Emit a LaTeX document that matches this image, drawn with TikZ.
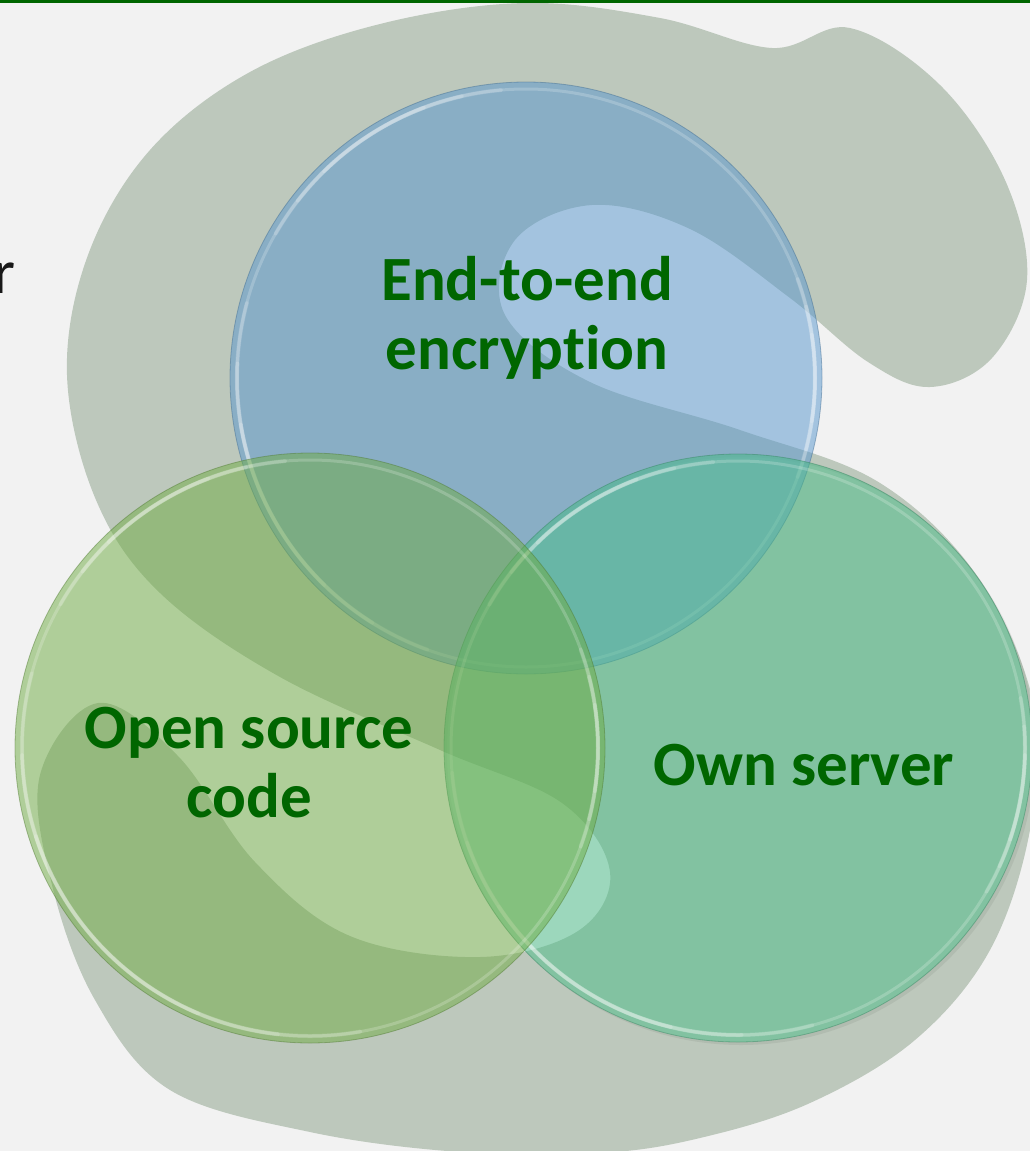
\documentclass[tikz,border=0pt]{standalone}
\usepackage{fontspec}
\setmainfont{Carlito}[Ligatures=NoCommon]
\definecolor{bgc}{RGB}{242,242,242}
\definecolor{blobc}{RGB}{189,200,188}
\definecolor{bluec}{RGB}{86,150,206}
\definecolor{leftc}{RGB}{110,172,66}
\definecolor{rightc}{RGB}{72,190,136}
\definecolor{txtgreen}{RGB}{0,102,0}
\definecolor{cuttext}{RGB}{25,25,25}
% tapered glossy arc: #1 centre node, #2 radius, #3 start angle, #4 end angle
\newcommand{\myglossarc}[4]{%
  \foreach \k in {0,1,2}{%
    \pgfmathsetmacro{\sa}{#3+\k*(#4-#3)/7}%
    \pgfmathsetmacro{\ea}{#4-\k*(#4-#3)/7}%
    \draw[white, opacity=0.17, line width=4pt, line cap=round]
      ([shift={(\sa:#2)}]#1.center) arc[start angle=\sa, end angle=\ea, radius=#2];
  }}
\begin{document}
\begin{tikzpicture}[x=1pt,y=-1pt,
  lbl/.style={text=txtgreen, font=\bfseries\fontsize{63}{69}\selectfont, align=center, inner sep=0pt},
  disc/.style={circle, inner sep=0pt, minimum size=592pt, fill=#1, fill opacity=0.5, draw=#1!70!black, draw opacity=0.45, line width=0.8pt},
  rim/.style={white, opacity=0.2, line width=3pt}]
\useasboundingbox (0,0) rectangle (1030,1151);
\fill[bgc] (0,0) rectangle (1030,1151);
\begin{scope}
\clip (0,0) rectangle (1030,1151);
% background blob
\fill[blobc] plot[smooth cycle, tension=0.6] coordinates {
 (67,375) (88,255) (150,150) (250,72) (380,24) (525,3) (660,18) (772,48)
 (850,28) (940,85) (1005,180) (1027,280) (992,358) (930,387) (868,362)
 (790,298) (690,229) (592,205) (515,240) (505,315) (590,382) (740,430)
 (880,483) (980,580) (1035,710) (1030,830) (990,950) (915,1040) (810,1103)
 (700,1138) (600,1153) (460,1152) (310,1132) (170,1090) (95,1000) (52,885)
 (40,775) (98,703) (178,756) (255,862) (350,936) (480,957) (578,931)
 (610,872) (562,803) (440,750) (280,677) (160,593) (96,500)};
% shadow of right circle (outside only)
\fill[black, opacity=0.06, even odd rule] (741,751) circle [radius=294pt] (738,748) circle [radius=294pt];
% circles
\node[disc=bluec] (cE) at (526,378) {};
\draw[rim] (cE.center) circle [radius=289pt];
\myglossarc{cE}{289pt}{95}{150}
\myglossarc{cE}{289pt}{165}{250}
\myglossarc{cE}{289pt}{-20}{20}
\node[disc=rightc, minimum size=588pt] (cR) at (738,748) {};
\draw[rim] (cR.center) circle [radius=287pt];
\myglossarc{cR}{287pt}{95}{150}
\myglossarc{cR}{287pt}{185}{285}
\myglossarc{cR}{287pt}{-30}{10}
\node[disc=leftc, minimum size=590pt] (cL) at (310,748) {};
\draw[rim] (cL.center) circle [radius=288pt];
\myglossarc{cL}{288pt}{95}{150}
\myglossarc{cL}{288pt}{165}{280}
\myglossarc{cL}{288pt}{-20}{20}
\end{scope}
% labels
\node[lbl] (enc) at (527,318) {End-to-end\\encryption};
\node[lbl] (osc) at (249,763) {Open source\\code};
\node[lbl] (own) at (804,765) {Own server};
\node[text=cuttext, font=\fontsize{63}{69}\selectfont, anchor=base east, inner sep=0pt] (cut) at (15.5,293) {r};
% top bar
\fill[txtgreen] (0,0) rectangle (1030,3);
\end{tikzpicture}
\end{document}
